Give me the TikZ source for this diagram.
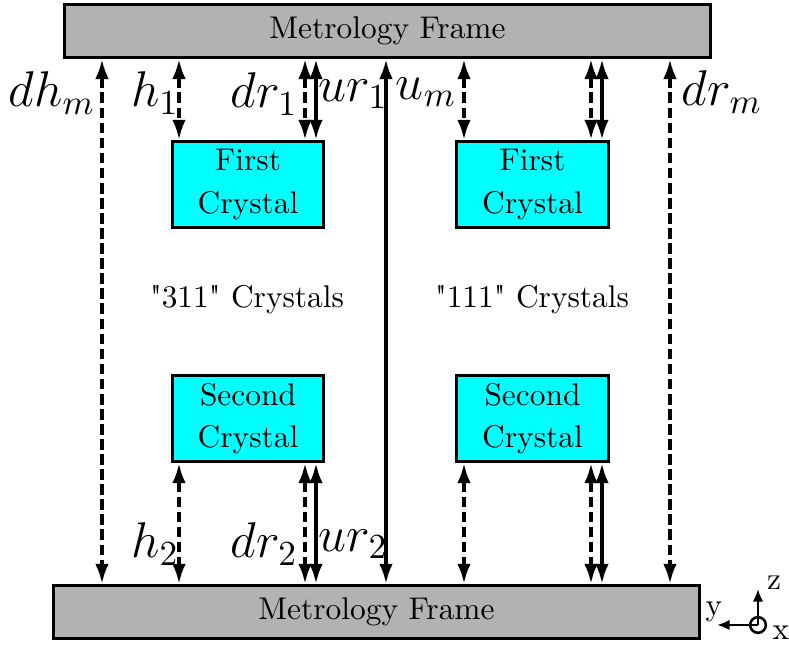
\RequirePackage{fix-cm}
\documentclass[tikz,border=0pt]{standalone}
\usetikzlibrary{arrows.meta}
\definecolor{cy}{RGB}{0,255,255}
\begin{document}
\begin{tikzpicture}[x=0.3185pt,y=-0.3185pt,
  frame/.style={draw,line width=1pt,fill=black!30,minimum width=205.9pt,minimum height=17pt,inner sep=0pt,font=\normalsize},
  crystal/.style={draw,line width=1pt,fill=cy,minimum width=48.25pt,minimum height=27.55pt,inner sep=0pt,align=center,font={\fontsize{10}{13.5}\selectfont}},
  meas/.style={line width=1.05pt,{Latex[length=6.3pt,width=4.3pt]}-{Latex[length=6.3pt,width=4.3pt]}},
  dsh/.style={meas,dash pattern=on 3.4pt off 1.4pt},
  lbl/.style={font={\fontsize{16}{19}\selectfont},inner sep=0pt},
  plain/.style={font=\normalsize,inner sep=0pt},
  ax/.style={line width=0.8pt,-{Latex[length=4pt,width=3.3pt]}}]
\useasboundingbox (0,0) rectangle (789,648);
\node[frame] (top) at (387.5,31) {Metrology Frame};
\node[frame] (bot) at (376.5,612) {Metrology Frame};
\node[crystal] (c1) at (248,184.5) {First\\Crystal};
\node[crystal] (c2) at (248,418.5) {Second\\Crystal};
\node[crystal] (c3) at (532.5,184.5) {First\\Crystal};
\node[crystal] (c4) at (532.5,418.5) {Second\\Crystal};
\node[plain] (t311) at (247,300) {\textquotedbl311\textquotedbl{} Crystals};
\node[plain] (t111) at (532,300) {\textquotedbl111\textquotedbl{} Crystals};
% long arrows
\draw[dsh] (top.south -| 102,0) -- (bot.north -| 102,0);
\draw[meas] (top.south -| 386,0) -- (bot.north -| 386,0);
\draw[dsh] (top.south -| 670,0) -- (bot.north -| 670,0);
% upper short arrows
\draw[dsh] (top.south -| 179,0) -- (c1.north -| 179,0);
\draw[dsh] (top.south -| 305,0) -- (c1.north -| 305,0);
\draw[meas] (top.south -| 316,0) -- (c1.north -| 316,0);
\draw[dsh] (top.south -| 464,0) -- (c3.north -| 464,0);
\draw[dsh] (top.south -| 591,0) -- (c3.north -| 591,0);
\draw[meas] (top.south -| 602,0) -- (c3.north -| 602,0);
% lower short arrows
\draw[dsh] (c2.south -| 179,0) -- (bot.north -| 179,0);
\draw[dsh] (c2.south -| 305,0) -- (bot.north -| 305,0);
\draw[meas] (c2.south -| 316,0) -- (bot.north -| 316,0);
\draw[dsh] (c4.south -| 464,0) -- (bot.north -| 464,0);
\draw[dsh] (c4.south -| 591,0) -- (bot.north -| 591,0);
\draw[meas] (c4.south -| 602,0) -- (bot.north -| 602,0);
% labels
\node[lbl] (ldhm) at (52,93) {$dh_m$};
\node[lbl] (lh1) at (155,93) {$h_1$};
\node[lbl] (ldr1) at (264,94) {$dr_1$};
\node[lbl] (lur1) at (353,94) {$ur_1$};
\node[lbl] (lum) at (426,92) {$u_m$};
\node[lbl] (ldrm) at (722,92) {$dr_m$};
\node[lbl] (lh2) at (155,544) {$h_2$};
\node[lbl] (ldr2) at (264,544) {$dr_2$};
\node[lbl] (lur2) at (353,544) {$ur_2$};
% axes
\node[draw,circle,line width=0.8pt,minimum size=5pt,inner sep=0pt] (o) at (758,625) {};
\coordinate (zend) at (758,589);
\coordinate (yend) at (717,625);
\draw[ax] (o.center) -- (zend);
\draw[ax] (o.center) -- (yend);
\node[plain] (lz) at (774,583) {z};
\node[plain] (ly) at (714,612) {y};
\node[plain] (lx) at (781,633) {x};
\end{tikzpicture}
\end{document}
